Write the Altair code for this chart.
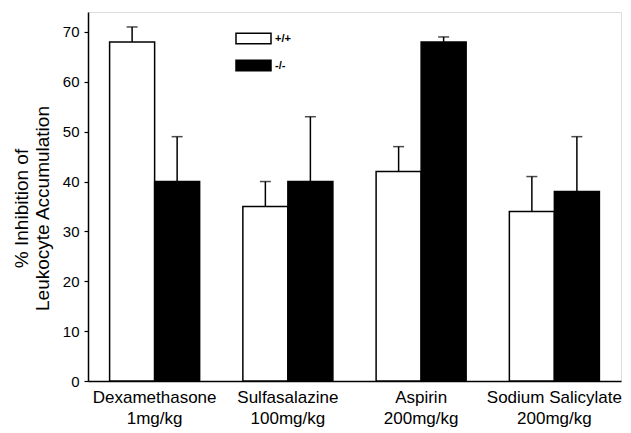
import altair as alt
import pandas as pd

drugs = ["Dexamethasone|1mg/kg", "Sulfasalazine|100mg/kg", "Aspirin|200mg/kg", "Sodium Salicylate|200mg/kg"]
genotypes = ["+/+", "-/-"]
wt_mean = [68, 35, 42, 34]
wt_top = [71, 40, 47, 41]
ko_mean = [40, 40, 68, 38]
ko_top = [49, 53, 69, 49]
y_ticks = [0, 10, 20, 30, 40, 50, 60, 70]

rows = []
for i, d in enumerate(drugs):
    rows.append({"drug": d, "genotype": "+/+", "mean": wt_mean[i], "top": wt_top[i]})
    rows.append({"drug": d, "genotype": "-/-", "mean": ko_mean[i], "top": ko_top[i]})
df = pd.DataFrame(rows)

FONT = "Liberation Sans"

x_enc = alt.X("drug:N", sort=drugs, title=None,
              scale=alt.Scale(paddingInner=0, paddingOuter=0),
              axis=alt.Axis(labelExpr="split(datum.label, '|')", labelAngle=0,
                            labelFontSize=17, labelColor="black", labelFont=FONT,
                            labelPadding=8, labelLineHeight=21, ticks=False,
                            domainColor="black", domainWidth=1.5))
xo_enc = alt.XOffset("genotype:N", sort=genotypes,
                     scale=alt.Scale(paddingInner=0, paddingOuter=0.48))
y_scale = alt.Scale(domain=[0, 74], nice=False)

bars = alt.Chart(df).mark_bar(stroke="black", strokeWidth=1.5).encode(
    x=x_enc,
    xOffset=xo_enc,
    y=alt.Y("mean:Q", scale=y_scale,
            title=["% Inhibition of", "Leukocyte Accumulation"],
            axis=alt.Axis(values=y_ticks, grid=False, tickSize=4, tickColor="black",
                          tickWidth=1.2, domainColor="black", domainWidth=1.5,
                          labelFontSize=15, labelColor="black", labelFont=FONT,
                          labelPadding=5, titleFont=FONT, titleFontSize=19,
                          titleFontWeight="normal", titleColor="black",
                          titlePadding=10, titleLineHeight=21, titleY=196)),
    fill=alt.Fill("genotype:N", sort=genotypes,
                  scale=alt.Scale(domain=genotypes, range=["white", "black"]),
                  legend=alt.Legend(title=None, orient="none", legendX=147, legendY=8,
                                    symbolType="M-1,-0.3H1V0.3H-1Z", symbolSize=1225,
                                    symbolStrokeColor="black", symbolStrokeWidth=1.5,
                                    labelFontSize=11, labelFont=FONT, labelColor="black",
                                    labelFontWeight="bold", padding=0, rowPadding=-2,
                                    labelOffset=3)),
)

err = alt.Chart(df).mark_rule(color="black", strokeWidth=1.5).encode(
    x=x_enc, xOffset=xo_enc,
    y=alt.Y("mean:Q", scale=y_scale), y2="top:Q")

cap = alt.Chart(df).mark_tick(color="black", size=11, thickness=1.5).encode(
    x=x_enc, xOffset=xo_enc,
    y=alt.Y("top:Q", scale=y_scale))

chart = alt.layer(err, bars, cap).properties(
    width=533, height=369,
    autosize=alt.AutoSizeParams(type="none"),
    padding={"left": 80, "top": 4, "right": 2, "bottom": 52},
).configure_view(stroke=None).configure(background="white")

chart.save("out.html", embed_options={"renderer": "svg", "actions": False})
